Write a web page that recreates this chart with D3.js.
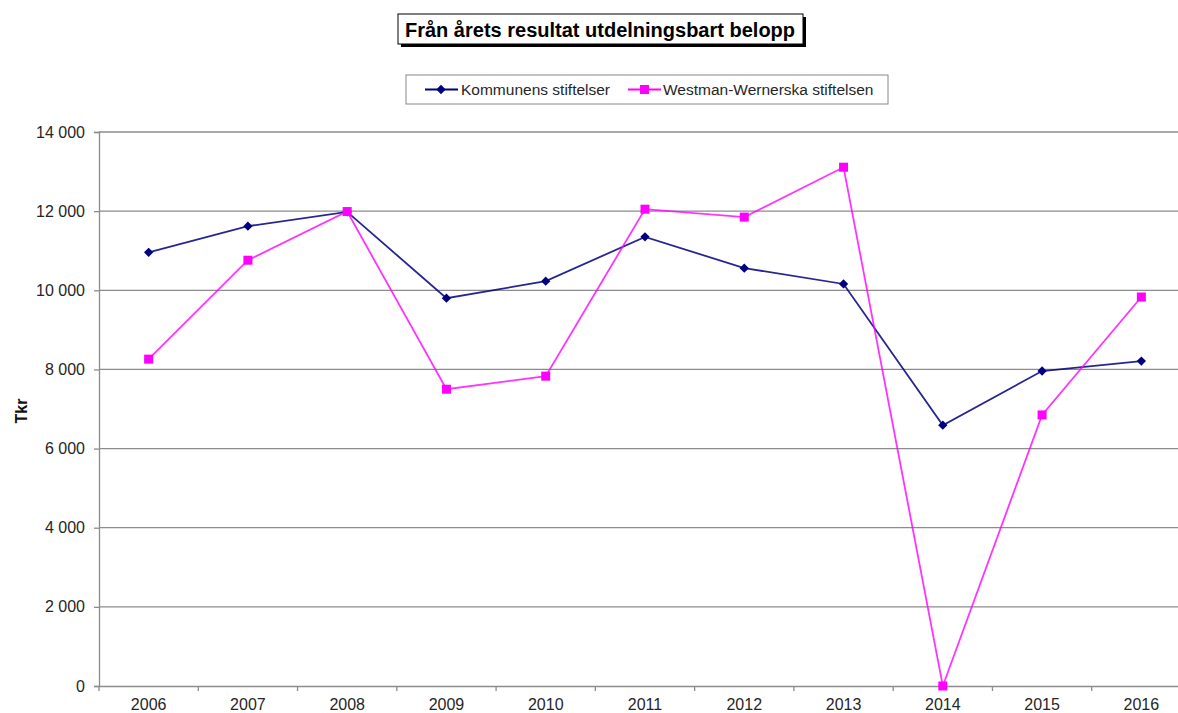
<!DOCTYPE html>
<html><head><meta charset="utf-8">
<script src="https://cdn.jsdelivr.net/npm/d3@7"></script>
<style>body{margin:0;background:#fff}svg{display:block}</style>
</head><body>
<script>
const years = ["2006","2007","2008","2009","2010","2011","2012","2013","2014","2015","2016"];
const kommunens = [10960, 11620, 11980, 9800, 10230, 11350, 10560, 10160, 6590, 7960, 8210];
const westman = [8260, 10760, 11990, 7500, 7830, 12050, 11850, 13110, 0, 6850, 9830];
const yTicks = [0, 2000, 4000, 6000, 8000, 10000, 12000, 14000];
const seriesNames = ["Kommunens stiftelser", "Westman-Wernerska stiftelsen"];
const colors = ["#000080", "#FF00FF"];

const W = 1178, H = 713;
const svg = d3.select("body").append("svg").attr("width", W).attr("height", H);
const font = "Arial, 'Liberation Sans', sans-serif";

const pLeft = 99, pRight = 1191, pTop = 132, pBottom = 686;
const x = d3.scaleBand().domain(years).range([pLeft, pRight]);
const y = d3.scaleLinear().domain([0, 14000]).range([pBottom, pTop]);

// gridlines
svg.append("g").selectAll("line").data(yTicks.filter(d => d > 0)).join("line")
  .attr("x1", pLeft).attr("x2", W).attr("y1", d => y(d)).attr("y2", d => y(d))
  .attr("stroke", "#8c8c8c").attr("stroke-width", 1.3);

const fmt = d => d === 0 ? "0" : d3.format(",")(d).replace(",", " ");
const yAxis = svg.append("g").attr("transform", `translate(${pLeft},0)`)
  .call(d3.axisLeft(y).tickValues(yTicks).tickFormat(fmt).tickSize(5).tickPadding(9));
yAxis.select(".domain").attr("stroke", "#8c8c8c").attr("stroke-width", 1.3);
yAxis.selectAll(".tick line").attr("stroke", "#8c8c8c").attr("stroke-width", 1.3);
yAxis.selectAll("text").attr("font-family", font).attr("font-size", 16).attr("fill", "#262626");

const xAxis = svg.append("g").attr("transform", `translate(0,${pBottom})`)
  .call(d3.axisBottom(x).tickSize(0).tickPadding(13));
xAxis.select(".domain").attr("stroke", "#8c8c8c").attr("stroke-width", 1.3);
xAxis.selectAll("text").attr("font-family", font).attr("font-size", 16).attr("fill", "#262626");
// category separator ticks
svg.append("g").selectAll("line").data(years).join("line")
  .attr("x1", d => x(d)).attr("x2", d => x(d)).attr("y1", pBottom).attr("y2", pBottom + 5)
  .attr("stroke", "#8c8c8c").attr("stroke-width", 1.3);

const cx = d => x(d) + x.bandwidth() / 2;
const line = d3.line().x((d, i) => cx(years[i])).y(d => y(d));

// Kommunens
svg.append("path").datum(kommunens).attr("d", line).attr("fill", "none")
  .attr("stroke", colors[0]).attr("stroke-width", 1.8).attr("opacity", 0.85);
svg.append("g").selectAll("path").data(kommunens).join("path")
  .attr("transform", (d, i) => `translate(${cx(years[i])},${y(d)})`)
  .attr("d", d3.symbol(d3.symbolDiamond2, 55)()).attr("fill", colors[0]);

// Westman
svg.append("path").datum(westman).attr("d", line).attr("fill", "none")
  .attr("stroke", colors[1]).attr("stroke-width", 1.8).attr("opacity", 0.8);
svg.append("g").selectAll("rect").data(westman).join("rect")
  .attr("x", (d, i) => cx(years[i]) - 4.5).attr("y", d => y(d) - 4.5)
  .attr("width", 9).attr("height", 9).attr("fill", colors[1]);

// Y label
svg.append("text").attr("transform", `translate(27,411) rotate(-90)`)
  .attr("text-anchor", "middle").attr("font-family", font).attr("font-weight", "bold")
  .attr("font-size", 16).attr("fill", "#111").text("Tkr");

// title box
svg.append("rect").attr("x", 401).attr("y", 17).attr("width", 405).attr("height", 30).attr("fill", "#000");
svg.append("rect").attr("x", 398).attr("y", 14).attr("width", 405).attr("height", 30)
  .attr("fill", "#fff").attr("stroke", "#000").attr("stroke-width", 1);
svg.append("text").attr("x", 600).attr("y", 37).attr("text-anchor", "middle")
  .attr("font-family", font).attr("font-weight", "bold").attr("font-size", 20).attr("fill", "#000")
  .text("Från årets resultat utdelningsbart belopp");

// legend
svg.append("rect").attr("x", 406).attr("y", 75).attr("width", 482).attr("height", 29)
  .attr("fill", "#fff").attr("stroke", "#888").attr("stroke-width", 1);
const lg = svg.append("g");
lg.append("line").attr("x1", 425).attr("x2", 458).attr("y1", 89.5).attr("y2", 89.5)
  .attr("stroke", colors[0]).attr("stroke-width", 1.8);
lg.append("path").attr("transform", "translate(441,89.5)")
  .attr("d", d3.symbol(d3.symbolDiamond2, 55)()).attr("fill", colors[0]);
lg.append("text").attr("x", 461).attr("y", 95).attr("font-family", font).attr("font-size", 15.5)
  .attr("fill", "#262626").text(seriesNames[0]);
lg.append("line").attr("x1", 628).attr("x2", 661).attr("y1", 89.5).attr("y2", 89.5)
  .attr("stroke", colors[1]).attr("stroke-width", 1.8);
lg.append("rect").attr("x", 640).attr("y", 85).attr("width", 9).attr("height", 9).attr("fill", colors[1]);
lg.append("text").attr("x", 663).attr("y", 95).attr("font-family", font).attr("font-size", 15.5)
  .attr("fill", "#262626").text(seriesNames[1]);
</script>
</body></html>
